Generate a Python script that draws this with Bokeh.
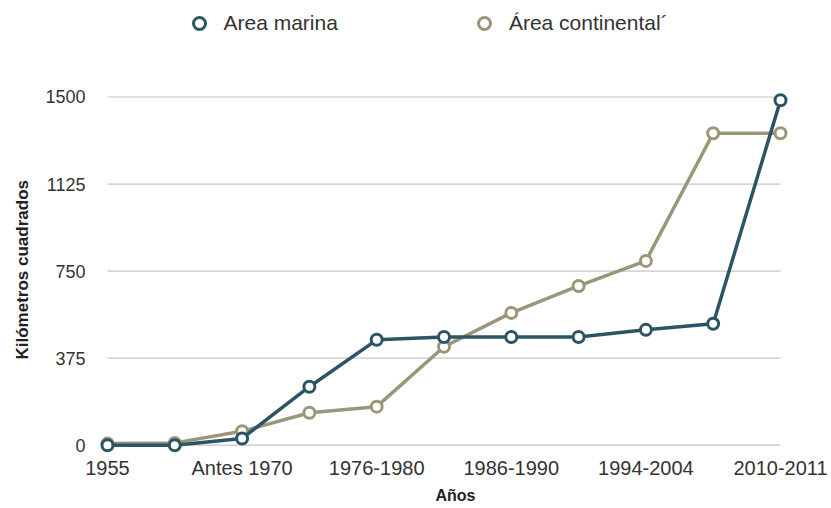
from bokeh.plotting import figure
from bokeh.models import FixedTicker, Legend, LegendItem, ColumnDataSource, Range1d, Title
from bokeh.embed import file_html
from bokeh.resources import INLINE

# ---- data ----
n_periods = 11
period_index = list(range(n_periods))
tick_labels = ["1955", "Antes 1970", "1976-1980", "1986-1990", "1994-2004", "2010-2011"]
tick_index = [0, 2, 4, 6, 8, 10]
area_marina = [0, 0, 29, 252, 454, 466, 466, 466, 497, 523, 1486]
area_continental = [7, 10, 60, 140, 166, 424, 570, 686, 794, 1344, 1344]
y_ticks = [0, 375, 750, 1125, 1500]

series_names = ["Area marina", "Área continental´"]
x_title = "Años"
y_title = "Kilómetros cuadrados"
marina_color = "#2b5565"
cont_color = "#9b9679"
FONT = "Liberation Sans"

p = figure(width=829, height=506, output_backend="svg", toolbar_location=None,
           x_range=Range1d(-0.193, 10.208), y_range=Range1d(-31.4, 1915.6),
           min_border_left=94, min_border_right=35, min_border_top=0, min_border_bottom=53)
p.outline_line_color = None
p.xgrid.visible = False
p.ygrid.visible = False

# gridlines spanning first to last period
grid_src = ColumnDataSource(dict(x0=[period_index[0]] * len(y_ticks),
                                 x1=[period_index[-1]] * len(y_ticks),
                                 y=y_ticks))
p.segment(x0="x0", x1="x1", y0="y", y1="y", source=grid_src,
          line_color="#c6c6c6", line_width=1.2)

src = ColumnDataSource(dict(x=period_index, marina=area_marina, cont=area_continental))

l_cont = p.line("x", "cont", source=src, line_color=cont_color, line_width=3.5)
s_cont = p.scatter("x", "cont", source=src, marker="circle", size=11,
                   fill_color="white", line_color=cont_color, line_width=3)
l_mar = p.line("x", "marina", source=src, line_color=marina_color, line_width=3.5)
s_mar = p.scatter("x", "marina", source=src, marker="circle", size=11,
                  fill_color="white", line_color=marina_color, line_width=3)

# axes
p.xaxis.ticker = FixedTicker(ticks=tick_index)
p.xaxis.major_label_overrides = {i: lab for i, lab in zip(tick_index, tick_labels)}
p.yaxis.ticker = FixedTicker(ticks=y_ticks)
for ax in (p.xaxis, p.yaxis):
    ax.axis_line_color = None
    ax.major_tick_line_color = None
    ax.minor_tick_line_color = None
    ax.major_tick_out = 0
    ax.major_tick_in = 0
    ax.minor_tick_out = 0
    ax.minor_tick_in = 0
    ax.major_label_text_font = FONT
    ax.major_label_text_color = "#333333"

p.xaxis.major_label_text_font_size = "20px"
p.xaxis.major_label_standoff = 4
p.yaxis.major_label_text_font_size = "18px"
p.yaxis.major_label_standoff = 9

# axis titles as side-panel titles so they can be offset like the reference
p.add_layout(Title(text=x_title, align="left", offset=341, standoff=6,
                   text_font=FONT, text_font_size="16px", text_font_style="bold",
                   text_color="#222222"), "below")
p.add_layout(Title(text=y_title, align="left", offset=93, standoff=21,
                   text_font=FONT, text_font_size="17px", text_font_style="bold",
                   text_color="#222222"), "left")

legend = Legend(items=[LegendItem(label=series_names[0], renderers=[s_mar]),
                       LegendItem(label=series_names[1], renderers=[s_cont])],
                orientation="horizontal", location=(89.5, 414),
                glyph_width=30, glyph_height=30, label_standoff=10, spacing=131,
                padding=0, margin=0, border_line_color=None, background_fill_alpha=0,
                label_text_font=FONT, label_text_font_size="21px",
                label_text_color="#333333")
p.add_layout(legend, "center")

open("out.html", "w").write(file_html(p, INLINE))
